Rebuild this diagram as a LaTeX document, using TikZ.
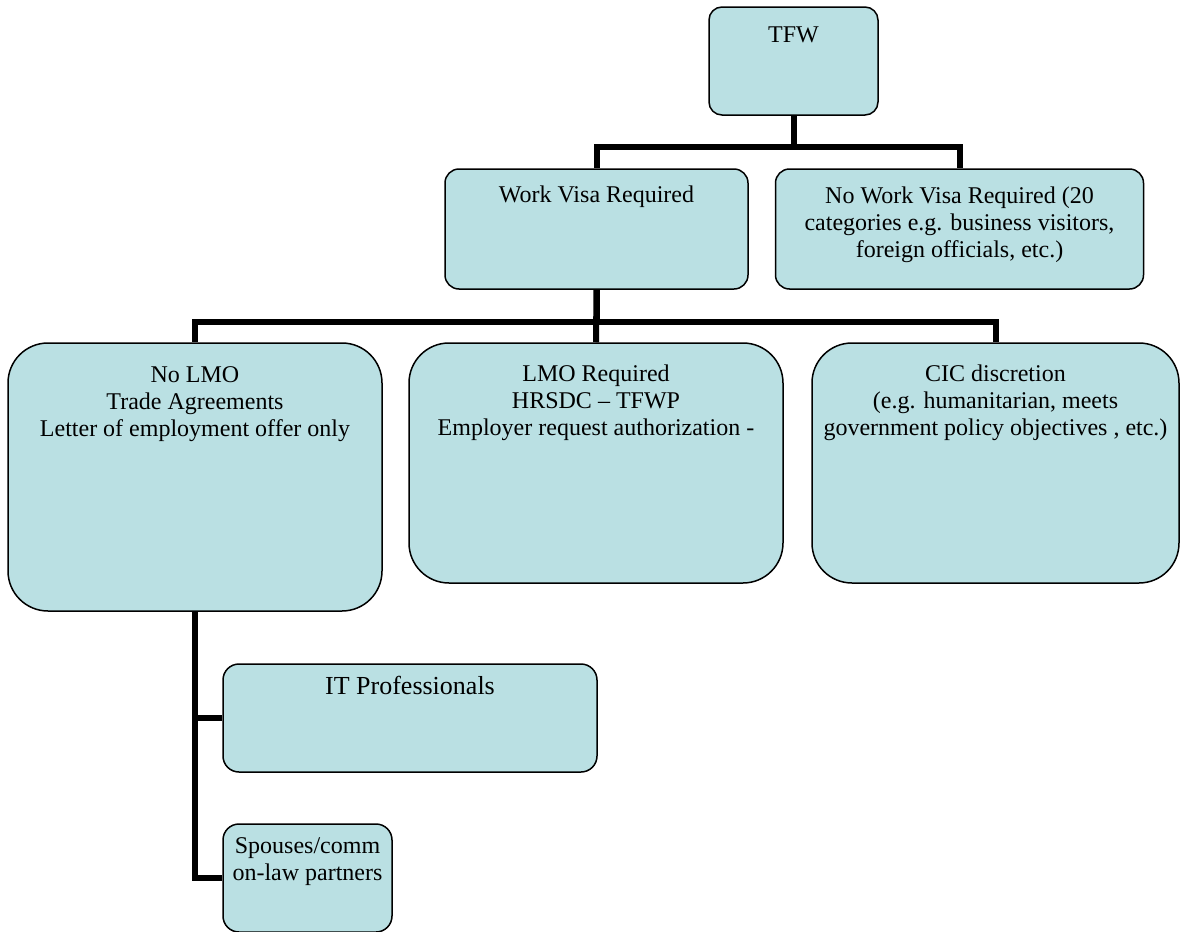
\documentclass[tikz,border=0pt]{standalone}
\usepackage{fontspec}
\setmainfont{Liberation Serif}
\definecolor{boxfill}{RGB}{186,224,227}

\begin{document}
\begin{tikzpicture}[x=0.5pt, y=-0.5pt]
	\tikzstyle{box} = [rectangle, draw=black, line width=0.75pt, fill=boxfill, inner sep=0pt]
	\tikzstyle{txt} = [anchor=north, align=center, inner sep=0pt, font=\fontsize{12}{13.5}\selectfont]
	\tikzstyle{conn} = [line width=3pt]
	\useasboundingbox (0,0) rectangle (1180,932);
	\node [box, rounded corners=6.5pt, minimum width=84.5pt, minimum height=54pt, label={[txt, yshift=-10pt]north:TFW}] (tfw) at (793.5, 61) {};
	\node [box, rounded corners=7pt, minimum width=151.5pt, minimum height=60pt, label={[txt, yshift=-8.5pt]north:Work Visa Required}] (visa) at (596.5, 229) {};
	\node [box, rounded corners=7pt, minimum width=184pt, minimum height=60pt, label={[txt, yshift=-9pt]north:{No Work Visa Required (20\\categories e.g. business visitors,\\foreign officials, etc.)}}] (novisa) at (959.5, 229) {};
	\node [box, rounded corners=20pt, minimum width=187pt, minimum height=134pt, label={[txt, yshift=-12pt]north:{No LMO\\Trade Agreements\\Letter of employment offer only}}] (nolmo) at (195, 477) {};
	\node [box, rounded corners=20pt, minimum width=187pt, minimum height=120pt, label={[txt, yshift=-11pt]north:{LMO Required\\HRSDC -- TFWP\\Employer request authorization -}}] (lmo) at (596, 463) {};
	\node [box, rounded corners=20pt, minimum width=183.5pt, minimum height=120pt, label={[txt, yshift=-11pt]north:{CIC discretion\\(e.g. humanitarian, meets\\government policy objectives , etc.)}}] (cic) at (995.5, 463) {};
	\node [box, rounded corners=8pt, minimum width=187pt, minimum height=54pt, label={[txt, yshift=-6.5pt, font=\fontsize{13}{15}\selectfont]north:IT Professionals}] (it) at (410, 718) {};
	\node [box, rounded corners=8pt, minimum width=84.5pt, minimum height=54pt, label={[txt, yshift=-7pt]north:{Spouses/comm\\on-law partners}}] (spouse) at (307.5, 878) {};
	\coordinate (topbus) at (0, 147);
	\coordinate (midbus) at (0, 322);
	\draw [conn] (tfw.south) -- (tfw.south |- topbus) -| (visa.north);
	\draw [conn] (tfw.south) -- (tfw.south |- topbus) -| (novisa.north);
	\draw [conn] (visa.south) -- (visa.south |- midbus) -| (nolmo.north);
	\draw [conn] (visa.south) -- (lmo.north);
	\draw [conn] (visa.south) -- (visa.south |- midbus) -| (cic.north);
	\draw [conn] (nolmo.south) |- (it.west);
	\draw [conn] (nolmo.south) |- (spouse.west);
\end{tikzpicture}
\end{document}
